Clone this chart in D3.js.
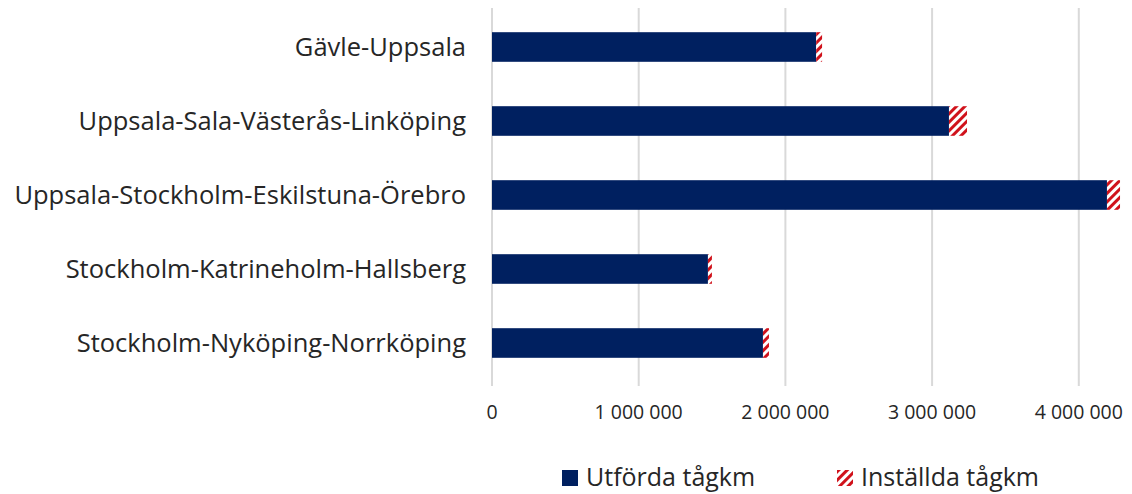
<!DOCTYPE html>
<html>
<head>
<meta charset="utf-8">
<script src="https://cdn.jsdelivr.net/npm/d3@7"></script>
<style>
  body { margin: 0; background: #fff; }
  svg { display: block; font-family: 'Open Sans', sans-serif; }
</style>
</head>
<body>
<svg width="1132" height="494"></svg>
<script>
const width = 1132, height = 494

const routes = [
    'Gävle-Uppsala',
    'Uppsala-Sala-Västerås-Linköping',
    'Uppsala-Stockholm-Eskilstuna-Örebro',
    'Stockholm-Katrineholm-Hallsberg',
    'Stockholm-Nyköping-Norrköping'
]
const utforda   = [2210000, 3115000, 4192000, 1472000, 1847000]
const installda = [40000, 123000, 89000, 27000, 41000]
const ticks = [0, 1000000, 2000000, 3000000, 4000000]
const seriesNames = ['Utförda tågkm', 'Inställda tågkm']

const svg = d3.select('svg');

// hatch pattern for cancelled km
const defs = svg.append('defs');
const pat = defs.append('pattern')
    .attr('id', 'hatch')
    .attr('patternUnits', 'userSpaceOnUse')
    .attr('width', 6)
    .attr('height', 6)
    .attr('patternTransform', 'rotate(45)');
pat.append('rect').attr('width', 6).attr('height', 6).attr('fill', '#fff');
pat.append('rect').attr('width', 3).attr('height', 6).attr('fill', '#d0121b');

const x = d3.scaleLinear().domain([0, 4300000]).range([492, 492 + 146.7 * 4.3]);
const y = d3.scaleBand().domain(routes).range([10, 380]).paddingInner(0.6).paddingOuter(0.3);

// gridlines
svg.append('g')
    .selectAll('line')
    .data(ticks)
    .enter()
    .append('line')
    .attr('x1', d => x(d))
    .attr('x2', d => x(d))
    .attr('y1', 8)
    .attr('y2', 386)
    .attr('stroke', '#d9d9d9')
    .attr('stroke-width', 2);

// tick labels
svg.append('g')
    .selectAll('text')
    .data(ticks)
    .enter()
    .append('text')
    .attr('x', d => x(d))
    .attr('y', 419)
    .style('text-anchor', 'middle')
    .style('font-size', '19.5px')
    .attr('fill', '#262626')
    .text(d => d3.format(',')(d).replace(/,/g, ' '));

const rows = routes.map((r, i) => ({ route: r, done: utforda[i], cancelled: installda[i] }));

// bars
svg.append('g')
    .selectAll('rect')
    .data(rows)
    .enter()
    .append('rect')
    .attr('x', x(0))
    .attr('y', d => y(d.route))
    .attr('width', d => x(d.done) - x(0))
    .attr('height', y.bandwidth())
    .attr('fill', '#002060');

svg.append('g')
    .selectAll('rect')
    .data(rows)
    .enter()
    .append('rect')
    .attr('x', d => x(d.done))
    .attr('y', d => y(d.route))
    .attr('width', d => x(d.done + d.cancelled) - x(d.done))
    .attr('height', y.bandwidth())
    .attr('fill', 'url(#hatch)');

// category labels
svg.append('g')
    .selectAll('text')
    .data(routes)
    .enter()
    .append('text')
    .attr('x', 466)
    .attr('y', d => y(d) + y.bandwidth() / 2)
    .attr('dy', '0.35em')
    .style('text-anchor', 'end')
    .style('font-size', '25.5px')
    .attr('fill', '#262626')
    .text(d => d);

// legend
const legend = svg.append('g');
const legendX = [562, 837];
seriesNames.forEach((name, i) => {
    legend.append('rect')
        .attr('x', legendX[i])
        .attr('y', 470)
        .attr('width', 16)
        .attr('height', 16)
        .attr('fill', i === 0 ? '#002060' : 'url(#hatch)');
    legend.append('text')
        .attr('x', legendX[i] + 24)
        .attr('y', 486)
        .style('font-size', '25px')
        .attr('fill', '#262626')
        .text(name);
});
</script>
</body>
</html>
